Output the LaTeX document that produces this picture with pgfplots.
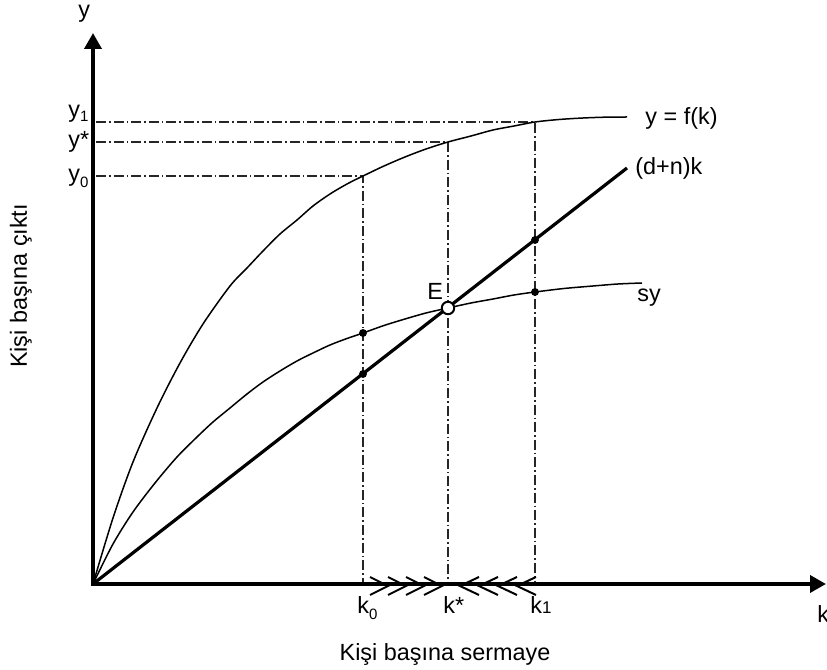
\documentclass[border=0pt]{standalone}
\usepackage{fontspec}
\setmainfont{Liberation Sans}
\usepackage{pgfplots}
\pgfplotsset{compat=1.18}
\usetikzlibrary{arrows.meta}

\newcommand\sub[2][-2bp]{\raisebox{#1}{\fontsize{7.5bp}{9bp}\selectfont #2}}

\begin{document}
\begin{tikzpicture}[lbl/.style={font=\fontsize{11.7bp}{14bp}\selectfont, inner sep=0pt}]
\begin{axis}[
  x=0.5bp, y=0.5bp,
  xmin=0, xmax=733, ymin=0, ymax=551,
  axis lines=none,
  clip=false,
  at={(0,0)}, anchor=south west,
  unbounded coords=jump,
]
% dash-dot guide lines
\addplot[black!85, line width=0.55bp, dash pattern=on 5bp off 1.5bp on 0.8bp off 1.5bp]
  coordinates {(3,408) (270,408) (270,0)};
\addplot[black!85, line width=0.55bp, dash pattern=on 5bp off 1.5bp on 0.8bp off 1.5bp]
  coordinates {(3,442) (355,442) (355,0)};
\addplot[black!85, line width=0.55bp, dash pattern=on 5bp off 1.5bp on 0.8bp off 1.5bp]
  coordinates {(3,462) (442,462) (442,0)};

% y = f(k)
\addplot[black, line width=0.75bp, smooth] coordinates {
  (0,0) (20,66) (40,122) (64,176) (87,221) (110,260) (137,298) (154,316)
  (170,333) (187,350) (204,364) (220,378) (237,390) (254,400) (270,408)
  (291,418) (312,427) (333,435) (355,442) (378,448) (400,454) (421,458)
  (442,462) (466,464.5) (490,466) (512,466.8) (534,467)};

% sy
\addplot[black, line width=0.75bp, smooth] coordinates {
  (0,0) (20,40) (40,72) (62,101) (84,127) (104,147) (120,162) (137,176)
  (154,190) (170,202) (187,213) (204,223) (220,231) (237,239) (254,245.5)
  (270,251) (291,258.5) (312,265) (333,271) (355,276) (378,281) (400,285)
  (421,289) (442,292) (471,295.5) (500,298) (525,300) (549,301)};

% (d+n)k
\addplot[black, line width=1.6bp] coordinates {(0,0) (534,416)};

% chevrons on the k axis
\addplot[black, line width=1bp] coordinates {
  (277,7) (295,-2) (277,-11) (nan,nan)
  (295,7) (313,-2) (295,-11) (nan,nan)
  (313,7) (331,-2) (313,-11) (nan,nan)
  (331,7) (349,-2) (331,-11) (nan,nan)
  (386,7) (367,-2) (386,-11) (nan,nan)
  (405,7) (386,-2) (405,-11) (nan,nan)
  (424,7) (405,-2) (424,-11) (nan,nan)
  (443,7) (424,-2) (443,-11)};

% axes
\addplot[black, line width=1.8bp, line join=miter,
  {Triangle[length=8bp,width=8.5bp]}-{Triangle[length=8bp,width=8.5bp]}]
  coordinates {(0,551) (0,0) (733,0)};

% points
\addplot[only marks, mark=*, mark size=1.75bp, black]
  coordinates {(270,251) (270,210) (442,292) (442,344)};
\addplot[only marks, mark=*, mark size=3.1bp, mark options={fill=white, draw=black, line width=1bp}]
  coordinates {(355,276)};

% labels
\node[lbl, anchor=base west] at (axis cs:-15,566) {y};
\node[lbl, anchor=base west] at (axis cs:-25,466) {y\sub{1}};
\node[lbl, anchor=base west] at (axis cs:-25,436) {y*};
\node[lbl, anchor=base west] at (axis cs:-25,402) {y\sub[-3bp]{0}};
\node[lbl, anchor=base west] at (axis cs:264,-30) {k\sub[-3bp]{0}};
\node[lbl, anchor=base west] at (axis cs:350,-30) {k*};
\node[lbl, anchor=base west] at (axis cs:437,-30) {k{\fontsize{8.5bp}{10bp}\selectfont 1}};
\node[lbl, anchor=base west] at (axis cs:724,-39) {k};
\node[lbl, anchor=base west] at (axis cs:552,459) {y = f(k)};
\node[lbl, anchor=base west] at (axis cs:542,409) {(d+n)k};
\node[lbl, anchor=base west] at (axis cs:334,284) {E};
\node[lbl, anchor=base west] at (axis cs:544,282) {sy};
\node[lbl, anchor=base] at (axis cs:352,-77) {Kişi başına sermaye};
\node[lbl, anchor=base, rotate=90] at (axis cs:-66,298) {Kişi başına çıktı};

\coordinate (bbSW) at (axis cs:-93,-86);
\coordinate (bbNE) at (axis cs:734,584);
\end{axis}
\pgfresetboundingbox
\path[use as bounding box] (bbSW) rectangle (bbNE);
\end{tikzpicture}
\end{document}
